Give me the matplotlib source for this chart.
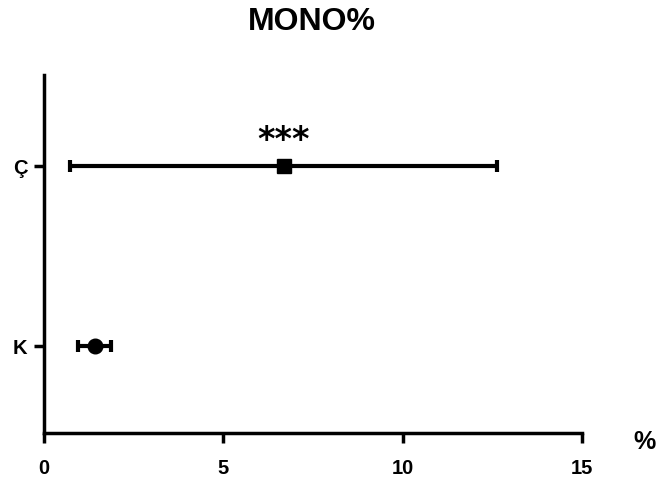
import matplotlib.pyplot as plt

plt.rcParams['font.family'] = ['Liberation Sans', 'DejaVu Sans']

# groups and values
groups = ['K', 'Ç']
means = [1.42, 6.69]
err_low = [0.95, 0.72]
err_high = [1.87, 12.63]
markers = ['o', 's']
x_ticks = [0, 5, 10, 15]

fig = plt.figure(figsize=(6.66, 4.88), dpi=100)
ax = fig.add_axes([0.066, 0.1127, 0.808, 0.7336])

for i, g in enumerate(groups):
    xerr = [[means[i] - err_low[i]], [err_high[i] - means[i]]]
    ax.errorbar(means[i], i, xerr=xerr, fmt=markers[i], color='black',
                ms=10.5, elinewidth=3, capsize=4, capthick=3)

ax.text(means[1], 1.05, '***', ha='center', va='bottom', fontsize=24,
        family='DejaVu Sans', fontweight='bold')

ax.set_xlim(0, 15)
ax.set_ylim(-0.483, 1.506)
ax.set_xticks(x_ticks)
ax.set_yticks(range(len(groups)))
ax.set_yticklabels(groups)
for lbl in ax.get_xticklabels() + ax.get_yticklabels():
    lbl.set_fontweight('bold')
    lbl.set_fontsize(14.5)

ax.spines['top'].set_visible(False)
ax.spines['right'].set_visible(False)
ax.spines['left'].set_linewidth(2.5)
ax.spines['bottom'].set_linewidth(2.5)
ax.tick_params(width=2.5, length=7)
ax.tick_params(axis='x', pad=12)
ax.tick_params(axis='y', pad=5)

fig.text(0.468, 0.955, 'MONO%', fontsize=23, fontweight='bold', ha='center', va='center')
fig.text(0.968, 0.095, '%', fontsize=18, fontweight='bold', ha='center', va='center')

fig.savefig('out.png', dpi=100)
